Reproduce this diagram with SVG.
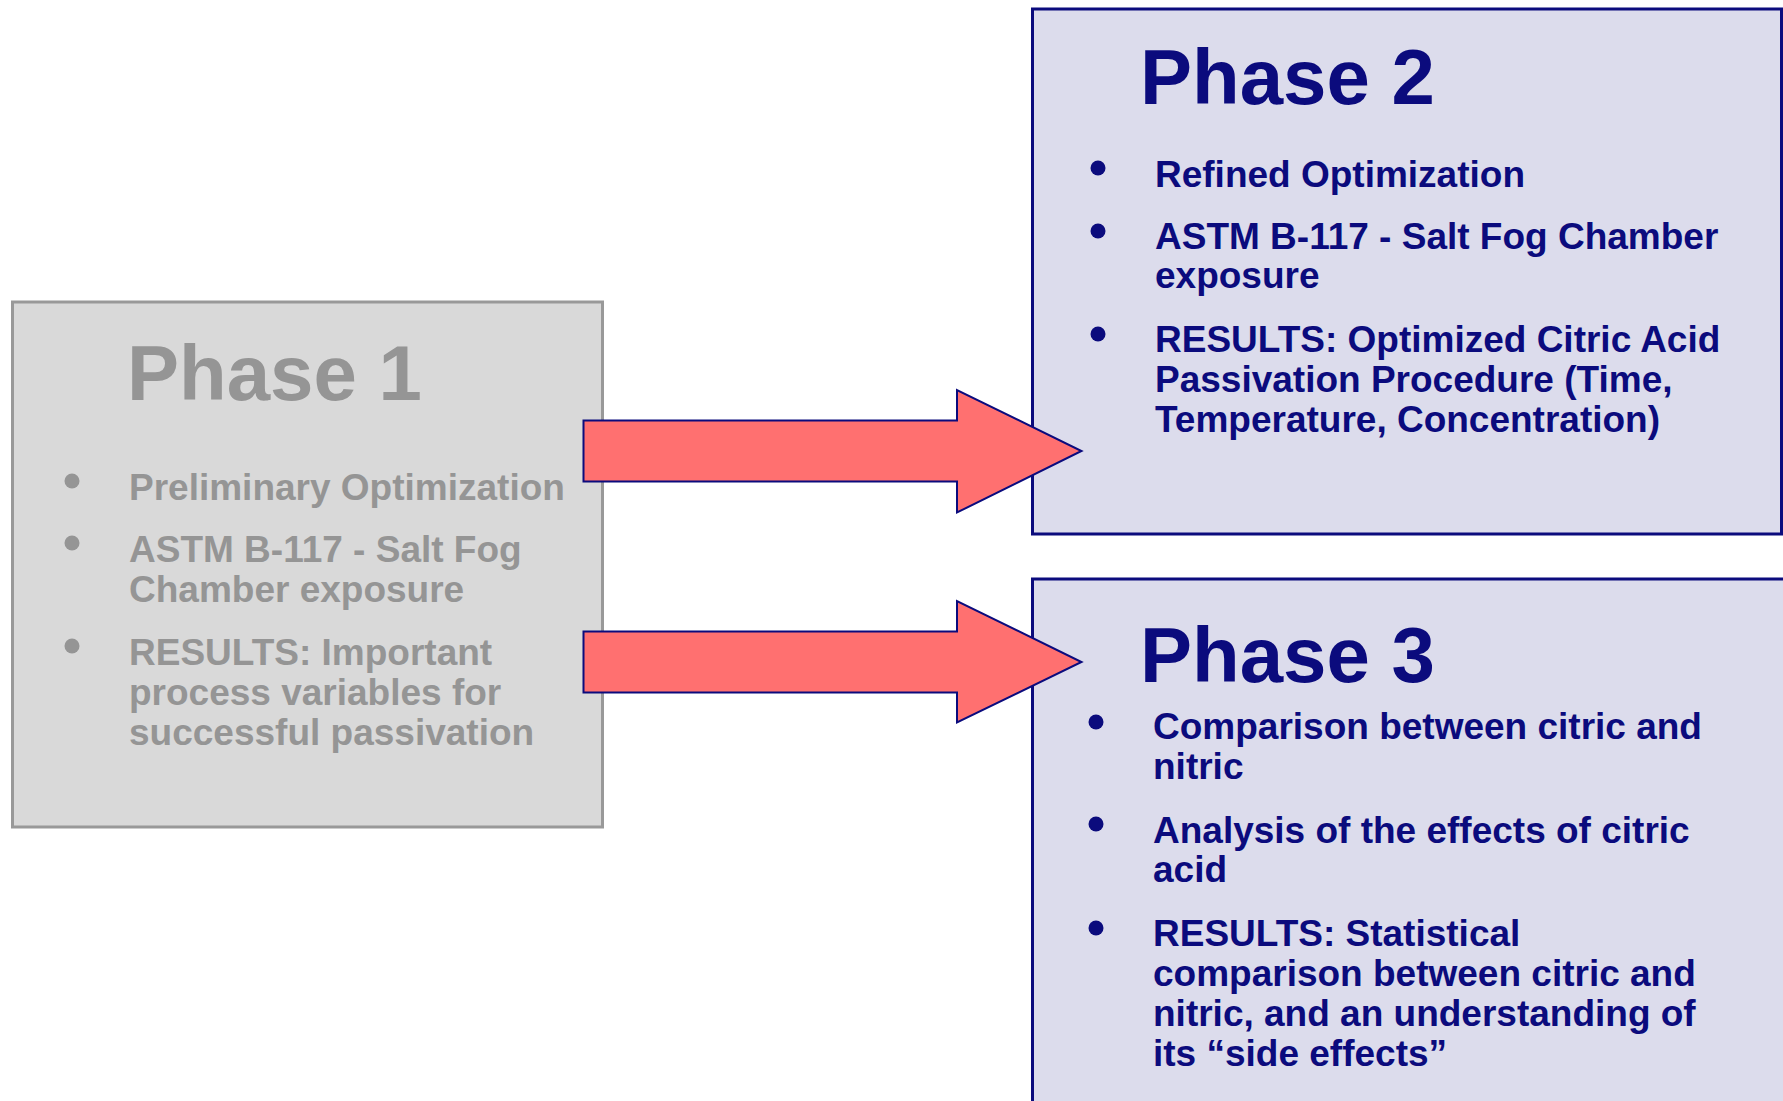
<svg xmlns="http://www.w3.org/2000/svg" width="1783" height="1101" viewBox="0 0 1783 1101">
<style>
.t{font-family:"Liberation Sans",Arial,sans-serif;font-weight:bold}
.title{font-size:78px}
.body{font-size:37px}
.grey{fill:#959595}
.navy{fill:#0b0b7d}
.arrow{fill:#ff7070;stroke:#0b0b7d;stroke-width:2}
</style>
<rect width="1783" height="1101" fill="#ffffff"/>
<g id="phase1">
<rect x="12.5" y="302" width="590" height="525" fill="#d9d9d9" stroke="#999999" stroke-width="3"/>
<text class="t title grey" x="127" y="400">Phase 1</text>
<circle class="grey" cx="72" cy="481" r="7.5"/>
<circle class="grey" cx="72" cy="543" r="7.5"/>
<circle class="grey" cx="72" cy="646" r="7.5"/>
<text class="t body grey" x="129" y="500">Preliminary Optimization</text>
<text class="t body grey" x="129" y="562">ASTM B-117 - Salt Fog</text>
<text class="t body grey" x="129" y="602">Chamber exposure</text>
<text class="t body grey" x="129" y="665">RESULTS: Important</text>
<text class="t body grey" x="129" y="705">process variables for</text>
<text class="t body grey" x="129" y="745">successful passivation</text>
</g>
<g id="phase2">
<rect x="1032.5" y="9" width="749" height="525" fill="#dcdcec" stroke="#0b0b7d" stroke-width="3"/>
<text class="t title navy" x="1140" y="104">Phase 2</text>
<circle class="navy" cx="1098" cy="168" r="7.5"/>
<circle class="navy" cx="1098" cy="231" r="7.5"/>
<circle class="navy" cx="1098" cy="334" r="7.5"/>
<text class="t body navy" x="1155" y="187">Refined Optimization</text>
<text class="t body navy" x="1155" y="249">ASTM B-117 - Salt Fog Chamber</text>
<text class="t body navy" x="1155" y="288">exposure</text>
<text class="t body navy" x="1155" y="352">RESULTS: Optimized Citric Acid</text>
<text class="t body navy" x="1155" y="392">Passivation Procedure (Time,</text>
<text class="t body navy" x="1155" y="432">Temperature, Concentration)</text>
</g>
<g id="phase3">
<rect x="1032.5" y="579" width="760" height="540" fill="#dcdcec" stroke="#0b0b7d" stroke-width="3"/>
<text class="t title navy" x="1140" y="682">Phase 3</text>
<circle class="navy" cx="1096" cy="722" r="7.5"/>
<circle class="navy" cx="1096" cy="824" r="7.5"/>
<circle class="navy" cx="1096" cy="928" r="7.5"/>
<text class="t body navy" x="1153" y="739">Comparison between citric and</text>
<text class="t body navy" x="1153" y="779">nitric</text>
<text class="t body navy" x="1153" y="843">Analysis of the effects of citric</text>
<text class="t body navy" x="1153" y="882">acid</text>
<text class="t body navy" x="1153" y="946">RESULTS: Statistical</text>
<text class="t body navy" x="1153" y="986">comparison between citric and</text>
<text class="t body navy" x="1153" y="1026">nitric, and an understanding of</text>
<text class="t body navy" x="1153" y="1066">its “side effects”</text>
</g>
<g id="connectors">
<polygon class="arrow" points="583.5,420.5 957,420.5 957,390 1081.5,451 957,512.5 957,481.5 583.5,481.5"/>
<polygon class="arrow" points="583.5,631.5 957,631.5 957,601 1081.5,662 957,722.5 957,692.5 583.5,692.5"/>
</g>
</svg>
